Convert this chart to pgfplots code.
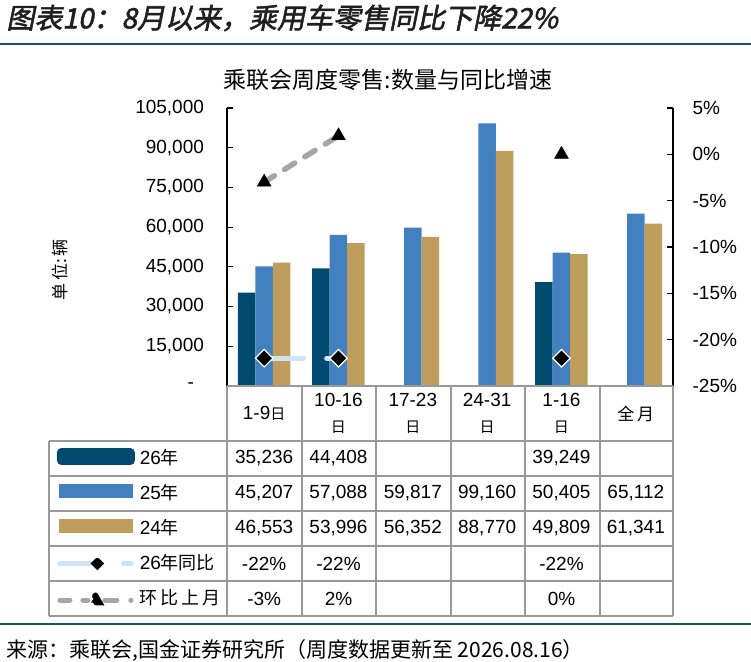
\documentclass[border=0pt]{standalone}
\usepackage{pgfplots}
\pgfplotsset{compat=1.18}
\usepackage{fontspec}
\setmainfont{Liberation Sans}
\newfontfamily\cjk{Noto Sans CJK SC}
\newfontfamily\cjkti{Noto Sans CJK SC}[FakeSlant=0.2,FakeBold=2]
\definecolor{c26}{HTML}{004A70}
\definecolor{c25}{HTML}{4380C0}
\definecolor{c24}{HTML}{BF9D5C}
\definecolor{cyoy}{HTML}{CFE3F4}
\definecolor{cmom}{HTML}{A6A6A6}
\definecolor{cline}{HTML}{1B4F72}
\definecolor{cgrid}{HTML}{999999}
\newcommand\ri{{\cjk\fontsize{7.5}{13}\selectfont 日}}
\begin{document}
\begin{tikzpicture}
\useasboundingbox (0,0) rectangle (375.5pt,-331pt);
% ---------- left axis: volumes ----------
\begin{axis}[
  at={(113.5pt,-193pt)}, anchor=south west,
  width=223pt, height=139pt, scale only axis,
  xmin=0.5, xmax=6.5, ymin=0, ymax=105000,
  scaled y ticks=false,
  ybar, bar width=8.75pt,
  axis y line*=left, axis x line*=bottom,
  x axis line style={draw=none},
  y axis line style={black, line width=0.7pt},
  tick align=inside, major tick length=3pt,
  ytick style={black, line width=0.6pt},
  xtick={1,2,3,4,5,6}, xtick style={draw=none},
  xticklabels={{1-9\ri},{10-16\\\ri},{17-23\\\ri},{24-31\\\ri},{1-16\\\ri},{\cjk\fontsize{8.5}{13}\selectfont 全\,月}},
  xticklabel style={align=center, anchor=center, yshift=-13.75pt, font=\fontsize{9.5}{13}\selectfont},
  ytick={0,15000,30000,45000,60000,75000,90000,105000},
  yticklabels={{-\hspace*{5pt}},{15,000},{30,000},{45,000},{60,000},{75,000},{90,000},{105,000}},
  yticklabel style={xshift=-8pt, font=\fontsize{9.5}{11}\selectfont},
  ylabel={\cjk\fontsize{8.5}{9}\selectfont 单\,位:\,辆},
  ylabel style={at={(axis description cs:-0.374,0.417)}, anchor=center, rotate=0},
  clip=false,
]
\addplot[fill=c26, draw=none, bar shift=-8.75pt] coordinates {(1,35236) (2,44408) (5,39249)};
\addplot[fill=c25, draw=none, bar shift=0pt] coordinates {(1,45207) (2,57088) (3,59817) (4,99160) (5,50405) (6,65112)};
\addplot[fill=c24, draw=none, bar shift=8.75pt] coordinates {(1,46553) (2,53996) (3,56352) (4,88770) (5,49809) (6,61341)};
\end{axis}
% ---------- right axis: growth rates ----------
\begin{axis}[
  at={(113.5pt,-193pt)}, anchor=south west,
  width=223pt, height=139pt, scale only axis,
  xmin=0.5, xmax=6.5, ymin=-25, ymax=5,
  axis y line*=right, axis x line=none,
  y axis line style={black, line width=0.7pt},
  tick align=inside, major tick length=3pt,
  ytick style={black, line width=0.6pt},
  ytick={-25,-20,-15,-10,-5,0,5},
  yticklabels={{-25\%},{-20\%},{-15\%},{-10\%},{-5\%},{0\%},{5\%}},
  yticklabel style={xshift=6.3pt, font=\fontsize{9.5}{11}\selectfont},
  unbounded coords=jump, clip=false,
  legend cell align=left,
  legend style={at={(axis description cs:-0.3812,-0.19784)}, anchor=north west,
    draw=none, fill=none, inner sep=0pt, outer sep=0pt, row sep=0pt, column sep=0pt,
    nodes={inner sep=0pt, inner xsep=2.5pt, minimum height=17.5pt, font=\fontsize{9.5}{11}\selectfont}},
]
\addlegendimage{legend image code/.code={\fill[c26, rounded corners=2pt] (0pt,-3pt) rectangle (38.5pt,5pt);}}
\addlegendentry{26{\cjk\fontsize{9}{11}\selectfont 年}}
\addlegendimage{legend image code/.code={\fill[c25] (1pt,-1.9pt) rectangle (37.5pt,4.4pt);}}
\addlegendentry{25{\cjk\fontsize{9}{11}\selectfont 年}}
\addlegendimage{legend image code/.code={\fill[c24] (1pt,-1.9pt) rectangle (37.5pt,4.4pt);}}
\addlegendentry{24{\cjk\fontsize{9}{11}\selectfont 年}}
\addplot[cyoy, line width=2.5pt, line cap=round, dash pattern=on 19.75pt off 11.5pt,
  mark=square*, mark size=3.1pt, mark options={solid, rotate=45, fill=black, draw=white, line width=0.6pt},
  legend image code/.code={
    \draw[cyoy, line width=2.5pt, line cap=round] (1.25pt,0pt)--(18.5pt,0pt);
    \draw[cyoy, line width=2.5pt, line cap=round] (33pt,0pt)--(37pt,0pt);
    \fill[black] (20pt,1.6pt)--(21.6pt,0pt)--(20pt,-1.6pt)--(18.4pt,0pt)--cycle;}]
  coordinates {(1,-22) (2,-22) (3,nan) (5,-22)};
\addlegendentry{26{\cjk\fontsize{9}{11}\selectfont 年同比}}
\addplot[cmom, line width=2.75pt, line cap=round, dash pattern=on 6pt off 6pt,
  mark=triangle*, mark size=4pt, mark options={solid, fill=black, draw=black, line width=0.2pt},
  legend image code/.code={
    \draw[cmom, line width=2.5pt, line cap=round] (1.25pt,-0.75pt)--(6.25pt,-0.75pt);
    \draw[cmom, line width=2.5pt, line cap=round] (12.75pt,-0.75pt)--(15.25pt,-0.75pt);
    \draw[cmom, line width=2.5pt, line cap=round] (23.75pt,-0.75pt)--(31.25pt,-0.75pt);
    \draw[cmom, line width=2.5pt, line cap=round] (36.75pt,-0.75pt)--(36.8pt,-0.75pt);
    \fill[black] (19pt,1.6pt)--(21.1pt,-2pt)--(16.9pt,-2pt)--cycle;}]
  coordinates {(1,-3) (2,2) (3,nan) (5,0)};
\addlegendentry{{\cjk\fontsize{9}{11}\selectfont 环\,比\,上\,月}}
\end{axis}
% ---------- decorations, in reference pixels ----------
\begin{scope}[x=0.5pt, y=-0.5pt]
  \node[anchor=west, inner sep=0pt, text=black!88] at (6,18)
    {\cjkti\fontsize{14}{15}\selectfont 图表10：8月以来，乘用车零售同比下降22\%};
  \draw[cline, line width=0.75pt] (0,44)--(751,44);
  \node[inner sep=0pt] at (388,80) {\cjk\fontsize{11.5}{12}\selectfont 乘联会周度零售:数量与同比增速};
  % table grid
  \begin{scope}[cgrid, line width=0.9pt]
    \draw (227,386)--(673,386);
    \foreach \yy in {441,476,511,546,581,616} \draw (49,\yy)--(673,\yy);
    \draw (49,441)--(49,616);
    \foreach \xx in {227,302,376,451,525,600,673} \draw (\xx,386)--(\xx,616);
  \end{scope}
  % table values
  \begin{scope}[every node/.style={inner sep=0pt, font=\fontsize{9.5}{11}\selectfont}]
    \newcommand\cell[3]{\node at ({227+74.33*(#1-0.5)},{458.5+35*(#2-1)}) {#3};}
    \cell{1}{1}{35,236}\cell{2}{1}{44,408}\cell{5}{1}{39,249}
    \cell{1}{2}{45,207}\cell{2}{2}{57,088}\cell{3}{2}{59,817}\cell{4}{2}{99,160}\cell{5}{2}{50,405}\cell{6}{2}{65,112}
    \cell{1}{3}{46,553}\cell{2}{3}{53,996}\cell{3}{3}{56,352}\cell{4}{3}{88,770}\cell{5}{3}{49,809}\cell{6}{3}{61,341}
    \cell{1}{4}{-22\%}\cell{2}{4}{-22\%}\cell{5}{4}{-22\%}
    \cell{1}{5}{-3\%}\cell{2}{5}{2\%}\cell{5}{5}{0\%}
  \end{scope}
  \draw[cline, line width=0.75pt] (0,624)--(751,624);
  \node[anchor=west, inner sep=0pt] at (6,651)
    {\cjk\fontsize{10.5}{12}\selectfont 来源：乘联会,国金证券研究所（周度数据更新至 2026.08.16）};
\end{scope}
\end{tikzpicture}
\end{document}
